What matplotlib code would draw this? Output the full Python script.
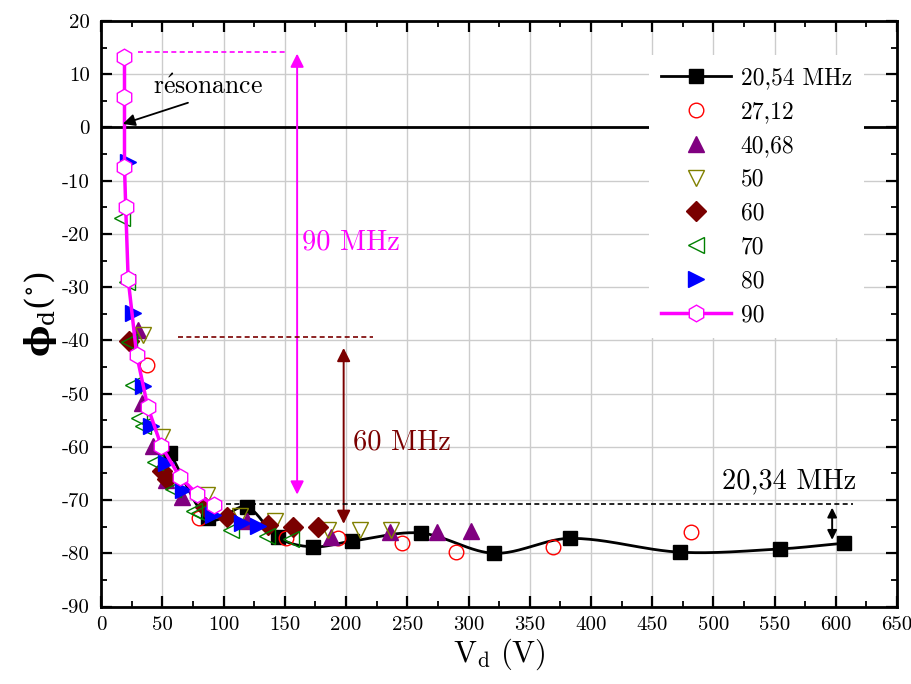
import numpy as np
import matplotlib
matplotlib.use("Agg")
import matplotlib.pyplot as plt
from matplotlib.ticker import MultipleLocator

plt.rcParams['font.family'] = ['cmr10', 'DejaVu Serif']
plt.rcParams['mathtext.fontset'] = 'cm'
plt.rcParams['axes.unicode_minus'] = False

# ---------------- data ----------------
v_2054 = [56, 87, 119, 144, 173, 205, 261, 321, 383, 473, 554, 607]
p_2054 = [-61.1, -73.4, -71.3, -77.0, -78.8, -77.7, -76.2, -80.0, -77.2, -79.8, -79.2, -78.1]

v_2712 = [37, 80, 151, 193, 246, 290, 369, 482]
p_2712 = [-44.6, -73.4, -77.2, -77.2, -78.1, -79.7, -78.8, -76.0]

v_4068 = [30, 33, 42, 53, 66, 119, 188, 236, 274, 302]
p_4068 = [-38.0, -51.8, -59.8, -66.2, -69.4, -74.0, -77.0, -76.0, -76.0, -75.8]

v_50 = [34, 50, 86, 113, 142, 185, 211, 237]
p_50 = [-39.0, -58.2, -69.0, -73.0, -74.0, -75.7, -75.6, -75.6]

v_60 = [23, 50, 54, 85, 103, 136, 157, 177]
p_60 = [-40.2, -64.6, -66.0, -71.3, -73.2, -74.7, -75.0, -75.0]

v_70 = [17, 21, 23, 26, 31, 34, 44, 59, 76, 80, 106, 135, 155]
p_70 = [-17.0, -29.0, -40.3, -48.4, -54.6, -56.0, -62.9, -67.9, -72.0, -72.4, -75.6, -76.8, -77.4]

v_80 = [22, 26, 34, 41, 53, 67, 91, 115, 128]
p_80 = [-6.5, -34.9, -48.6, -56.0, -63.0, -68.1, -72.8, -74.3, -74.9]

v_90 = [19, 19, 19, 20, 22, 29, 38, 49, 64, 78, 92]
p_90 = [13.3, 5.8, -7.4, -15.0, -28.5, -42.8, -52.5, -59.8, -65.6, -68.8, -71.0]

labels = ['20,54 MHz', '27,12', '40,68', '50', '60', '70', '80', '90']

x_ticks = list(range(0, 651, 50))
y_ticks = list(range(-90, 21, 10))


def hermite_smooth(x, y, per_seg=40):
    """Smooth curve through the points (cubic Hermite, averaged slopes)."""
    x = np.asarray(x, float)
    y = np.asarray(y, float)
    n = len(x)
    m = np.zeros(n)
    d = np.diff(y) / np.diff(x)
    m[0] = d[0]
    m[-1] = d[-1]
    for i in range(1, n - 1):
        m[i] = (y[i + 1] - y[i - 1]) / (x[i + 1] - x[i - 1])
    xs_all, ys_all = [], []
    for i in range(n - 1):
        h = x[i + 1] - x[i]
        t = np.linspace(0, 1, per_seg, endpoint=(i == n - 2))
        h00 = 2 * t**3 - 3 * t**2 + 1
        h10 = t**3 - 2 * t**2 + t
        h01 = -2 * t**3 + 3 * t**2
        h11 = t**3 - t**2
        xs_all.append(x[i] + t * h)
        ys_all.append(h00 * y[i] + h10 * h * m[i] + h01 * y[i + 1] + h11 * h * m[i + 1])
    return np.concatenate(xs_all), np.concatenate(ys_all)


fig = plt.figure(figsize=(9.12, 6.84), dpi=100)
ax = fig.add_axes([0.111, 0.1133, 0.8726, 0.856])

ax.set_xlim(0, 650)
ax.set_ylim(-90, 20)

# grid
ax.grid(True, which='major', color='#cccccc', lw=1.0, zorder=0)
ax.set_axisbelow(True)

# zero line
ax.axhline(0, color='black', lw=2.0, zorder=2)

# black smooth line + markers
sx, sy = hermite_smooth(v_2054, p_2054)
ax.plot(sx, sy, color='black', lw=2.0, zorder=3)
h1, = ax.plot(v_2054, p_2054, ls='none', marker='s', ms=9.5, color='black', zorder=4)

h2, = ax.plot(v_2712, p_2712, ls='none', marker='o', ms=10.5, mfc='none',
              mec='#ff0000', mew=1.0, zorder=4)
h3, = ax.plot(v_4068, p_4068, ls='none', marker='^', ms=11, color='#800080', zorder=4)
h4, = ax.plot(v_50, p_50, ls='none', marker='v', ms=11, mfc='none',
              mec='#808000', mew=1.0, zorder=4)
h5, = ax.plot(v_60, p_60, ls='none', marker='D', ms=10, color='#7a0000', zorder=4)
h6, = ax.plot(v_70, p_70, ls='none', marker='<', ms=11, mfc='none',
              mec='#008000', mew=1.0, zorder=4)
h7, = ax.plot(v_80, p_80, ls='none', marker='>', ms=11, color='#0000ff', zorder=4)
h8, = ax.plot(v_90, p_90, ls='-', lw=2.5, color='#ff00ff', marker='h', ms=12,
              mfc='white', mec='#ff00ff', mew=1.0, zorder=5)

# legend proxies (black has line)
lh1, = ax.plot([], [], ls='-', lw=2.0, marker='s', ms=9.5, color='black')
leg = ax.legend([lh1, h2, h3, h4, h5, h6, h7, h8], labels,
                loc='upper right', bbox_to_anchor=(0.973, 0.962),
                fontsize=17, frameon=True, facecolor='white', edgecolor='none',
                framealpha=1.0, fancybox=False, handlelength=3.0,
                handletextpad=0.4, labelspacing=0.5, borderpad=0.5,
                numpoints=1)
leg.set_zorder(6)

# annotations
mag = '#ff00ff'
mar = '#7a0000'
ax.annotate('', xy=(15.5, 0.5), xytext=(73, 4.8),
            arrowprops=dict(arrowstyle='-|>', color='black', lw=1.3,
                            mutation_scale=18), zorder=7)
ax.text(87, 7.6, r'$\mathrm{r\acute{e}sonance}$', fontsize=18.5, ha='center',
        va='center', zorder=7)

ax.plot([30, 151], [14.2, 14.2], ls=(0, (3, 2)), color=mag, lw=1.2, zorder=3)
ax.annotate('', xy=(160, 14.4), xytext=(160, -69.5),
            arrowprops=dict(arrowstyle='<|-|>', color=mag, lw=1.4,
                            mutation_scale=20), zorder=3)
ax.text(164, -21.5, '90 MHz', color=mag, fontsize=20.5, ha='left', va='center')

ax.plot([63, 222], [-39.4, -39.4], ls=(0, (3, 2)), color=mar, lw=1.2, zorder=3)
ax.annotate('', xy=(198, -40.9), xytext=(198, -75.0),
            arrowprops=dict(arrowstyle='<|-|>', color=mar, lw=1.4,
                            mutation_scale=20), zorder=3)
ax.text(206, -59.2, '60 MHz', color=mar, fontsize=20.5, ha='left', va='center')

ax.plot([102, 614], [-70.8, -70.8], ls=(0, (3, 2)), color='black', lw=1.2, zorder=3)
ax.annotate('', xy=(597, -70.9), xytext=(597, -78.0),
            arrowprops=dict(arrowstyle='<|-|>', color='black', lw=1.4,
                            mutation_scale=14), zorder=3)
ax.text(507, -66.4, '20,34 MHz', color='black', fontsize=20.5, ha='left', va='center')

# ticks
ax.set_xticks(x_ticks)
ax.set_xticklabels([str(t) for t in x_ticks])
ax.set_yticks(y_ticks)
ax.set_yticklabels([str(t) for t in y_ticks])
ax.xaxis.set_minor_locator(MultipleLocator(25))
ax.yaxis.set_minor_locator(MultipleLocator(5))
ax.tick_params(which='both', direction='in', top=True, right=True, labelsize=15)
ax.tick_params(which='major', length=8, width=1.6)
ax.tick_params(which='minor', length=4.5, width=1.3)
ax.tick_params(axis='x', pad=7)
ax.tick_params(axis='y', pad=8)
for s in ax.spines.values():
    s.set_linewidth(2.0)

ax.set_xlabel(r'$\mathrm{V}_{\mathrm{d}}\ \mathrm{(V)}$', fontsize=22, labelpad=2)
ax.set_ylabel(r'$\mathbf{\phi}_{\mathrm{d}}\mathrm{(^{\circ})}$', fontsize=24,
              labelpad=2, math_fontfamily='dejavuserif')

fig.savefig('out.png', dpi=100)
